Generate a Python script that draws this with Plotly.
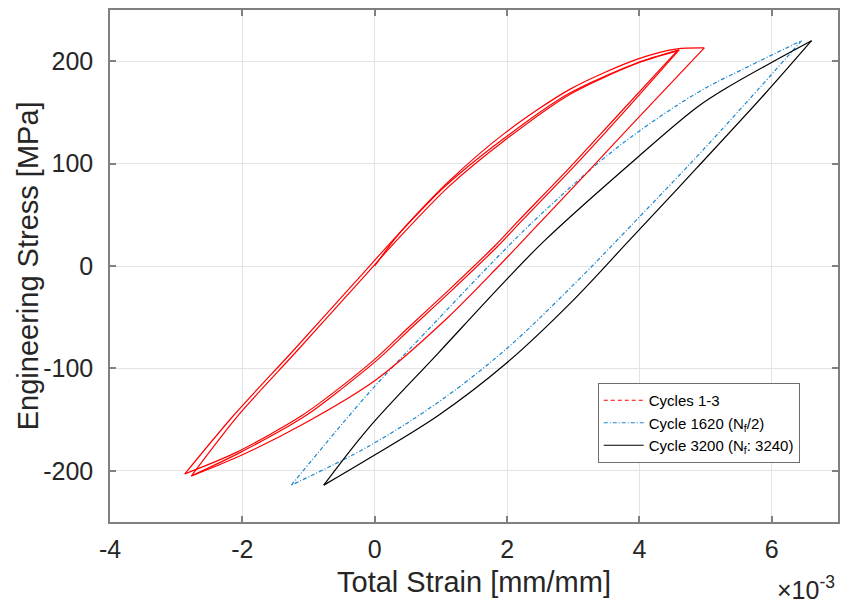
import plotly.graph_objects as go

# strain values in units of 1e-3 mm/mm, stress in MPa
# Cycles 1-3 (red)
r0_x = [0.00, 0.36, 1.11, 1.97, 2.96, 3.97, 4.57, 4.98]
r0_y = [0, 31, 82, 130, 173, 202, 212, 213]
r1_x = [4.98, 3.97, 3.22, 2.36, 1.86, 1.11, 0.02, -1.10, -2.09, -2.77]
r1_y = [213, 144, 92, 33, -1, -50, -111, -155, -187, -205]
r2_x = [-2.77, -2.05, -1.19, -0.24, 0.36, 1.11, 1.97, 2.96, 3.97, 4.57]
r2_y = [-205, -145, -84, -16, 27, 77, 123, 168, 198, 210]
r3_x = [4.57, 3.67, 2.96, 2.17, 1.82, 1.11, 0.51, 0.02, -0.55, -1.10, -2.09, -2.87]
r3_y = [210, 147, 97, 44, 20, -24, -60, -90, -120, -146, -182, -203]
r4_x = [-2.87, -2.12, -1.25, -0.30, 0.30, 1.05, 1.92, 2.92, 3.95, 4.60]
r4_y = [-203, -145, -84, -16, 27, 77, 123, 168, 198, 211]
r5_x = [4.60, 3.72, 3.01, 2.22, 1.87, 1.16, 0.56, 0.07, -0.50, -1.04, -2.03, -2.77]
r5_y = [211, 147, 97, 44, 20, -24, -60, -90, -120, -146, -182, -205]

# Cycle 1620 (blue)
b_up_x = [-1.26, -0.09, 0.81, 1.86, 2.47, 3.67, 4.87, 5.62, 6.45]
b_up_y = [-214, -124, -62, 9, 48, 116, 169, 194, 220]
b_lo_x = [6.45, 5.62, 4.87, 3.97, 3.07, 1.97, 0.96, -0.09, -1.26]
b_lo_y = [220, 160, 107, 46, -14, -82, -133, -176, -214]

# Cycle 3200 (black)
k_up_x = [-0.77, -0.09, 0.96, 1.98, 2.57, 3.97, 4.87, 5.32, 6.03, 6.60]
k_up_y = [-214, -158, -85, -14, 25, 106, 155, 174, 200, 220]
k_lo_x = [6.60, 5.88, 4.87, 3.86, 2.96, 1.97, 0.96, -0.09, -0.77]
k_lo_y = [220, 167, 96, 26, -36, -96, -146, -188, -214]

x_ticks = [-4, -2, 0, 2, 4, 6]
y_ticks = [-200, -100, 0, 100, 200]

names = ["Cycles 1-3", "Cycle 1620 (N<sub>f</sub>/2)", "Cycle 3200 (N<sub>f</sub>: 3240)"]
RED = "#ff0000"
BLUE = "#1a86cf"
BLACK = "#000000"
FONT = "Liberation Sans, Arial, sans-serif"

fig = go.Figure()

# legend entries
fig.add_trace(go.Scatter(x=[None], y=[None], mode="lines", name=names[0],
                         line=dict(color=RED, width=1.2, dash="4px,3px")))
fig.add_trace(go.Scatter(x=b_up_x, y=b_up_y, mode="lines", name=names[1], legendgroup="b",
                         line=dict(color=BLUE, width=1.2, dash="4px,2px,1px,2px", shape="spline", smoothing=1)))
fig.add_trace(go.Scatter(x=b_lo_x, y=b_lo_y, mode="lines", showlegend=False, legendgroup="b",
                         line=dict(color=BLUE, width=1.2, dash="4px,2px,1px,2px", shape="spline", smoothing=1)))
fig.add_trace(go.Scatter(x=k_up_x, y=k_up_y, mode="lines", name=names[2], legendgroup="k",
                         line=dict(color=BLACK, width=1.2, shape="spline", smoothing=1)))
fig.add_trace(go.Scatter(x=k_lo_x, y=k_lo_y, mode="lines", showlegend=False, legendgroup="k",
                         line=dict(color=BLACK, width=1.2, shape="spline", smoothing=1)))

for xs, ys in [(r0_x, r0_y), (r1_x, r1_y), (r2_x, r2_y), (r3_x, r3_y), (r4_x, r4_y), (r5_x, r5_y)]:
    fig.add_trace(go.Scatter(x=xs, y=ys, mode="lines", showlegend=False,
                             line=dict(color=RED, width=1.2, shape="spline", smoothing=0.8)))

axis_common = dict(
    showgrid=True, gridcolor="#e3e3e3", gridwidth=1,
    showline=True, linecolor="#808080", linewidth=1.5, mirror="ticks",
    ticks="inside", ticklen=6, tickcolor="#808080", tickwidth=1.5,
    zeroline=False,
    tickfont=dict(family=FONT, size=25, color="#262626"),
)

fig.update_layout(
    width=844, height=606,
    margin=dict(l=110, r=4, t=10, b=84),
    paper_bgcolor="white", plot_bgcolor="white",
    font=dict(family=FONT, color="#262626"),
    xaxis=dict(range=[-4, 7], tickvals=x_ticks, ticktext=[str(v) for v in x_ticks],
               ticklabelstandoff=4,
               title=dict(text="Total Strain [mm/mm]", font=dict(size=29), standoff=10),
               **axis_common),
    yaxis=dict(range=[-250, 250], tickvals=y_ticks, ticktext=[str(v) for v in y_ticks],
               ticklabelstandoff=10,
               **axis_common),
    legend=dict(x=0.67, y=0.2715, xanchor="left", yanchor="top",
                bgcolor="white", bordercolor="#6e6e6e", borderwidth=1,
                font=dict(family=FONT, size=15, color="#000000"),
                tracegroupgap=0, itemwidth=40),
    annotations=[
        dict(text="×10<sup>-3</sup>", xref="paper", yref="paper", x=0.998, y=-0.128,
             xanchor="right", yanchor="middle", showarrow=False,
             font=dict(family=FONT, size=25, color="#262626")),
        dict(text="Engineering Stress [MPa]", xref="paper", yref="paper",
             x=(28 - 110) / 730, y=0.5, xanchor="center", yanchor="middle",
             textangle=-90, showarrow=False,
             font=dict(family=FONT, size=29, color="#262626")),
    ],
)

fig.write_html("out.html")
